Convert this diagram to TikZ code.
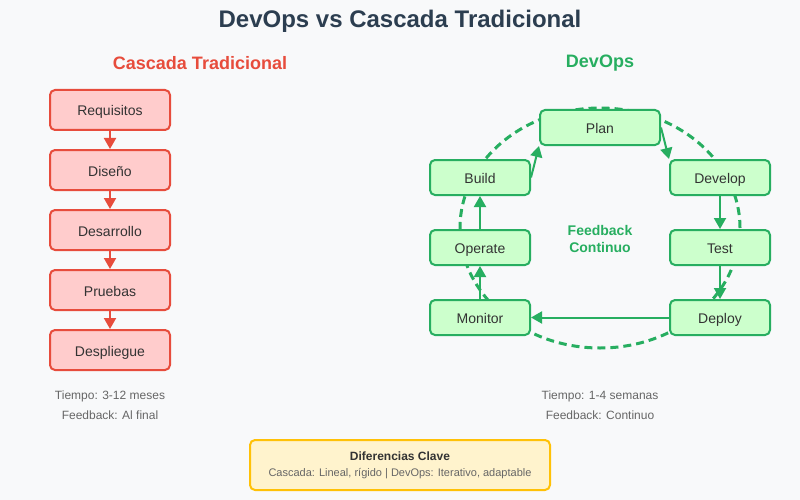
\documentclass[tikz,border=0pt]{standalone}
\usepackage{fontspec}
\setmainfont{Liberation Sans}
\usetikzlibrary{arrows.meta}
\definecolor{bg}{HTML}{F8F9FA}
\definecolor{navy}{HTML}{2C3E50}
\definecolor{wred}{HTML}{E74C3C}
\definecolor{wredfill}{HTML}{FFCCCC}
\definecolor{dgreen}{HTML}{27AE60}
\definecolor{dgreenfill}{HTML}{CCFFCC}
\definecolor{txt}{HTML}{333333}
\definecolor{subtxt}{HTML}{666666}
\definecolor{ybord}{HTML}{FFC107}
\definecolor{yfill}{HTML}{FFF3CD}
\begin{document}
\begin{tikzpicture}[x=1pt,y=-1pt,
  wbox/.style={draw=wred,fill=wredfill,line width=2pt,rounded corners=5pt,minimum width=120pt,minimum height=40pt,inner sep=0pt,font=\fontsize{14}{16}\selectfont,text=txt,text height=14pt,text depth=2pt},
  dbox/.style={draw=dgreen,fill=dgreenfill,line width=2pt,rounded corners=5pt,minimum width=100pt,minimum height=35pt,inner sep=0pt,font=\fontsize{14}{16}\selectfont,text=txt,text height=14pt,text depth=2pt},
  warrow/.style={draw=wred,line width=2pt,-{Triangle[length=11pt,width=12pt]}},
  darrow/.style={draw=dgreen,line width=2pt,-{Triangle[length=11pt,width=12pt]}},
  small/.style={font=\fontsize{12}{14}\selectfont,text=subtxt,inner sep=0pt}]
\fill[bg] (0,0) rectangle (800,500);
\useasboundingbox (0,0) rectangle (800,500);
\node[font=\bfseries\fontsize{24}{28}\selectfont,text=navy] (title) at (400,21.5) {DevOps vs Cascada Tradicional};
\node[font=\bfseries\fontsize{18}{21}\selectfont,text=wred] (wtitle) at (200,63.5) {Cascada Tradicional};
\node[font=\bfseries\fontsize{18}{21}\selectfont,text=dgreen] (dtitle) at (600,63.5) {DevOps};
% waterfall
\node[wbox] (req) at (110,110) {Requisitos};
\node[wbox] (dis) at (110,170) {Diseño};
\node[wbox] (des) at (110,230) {Desarrollo};
\node[wbox] (pru) at (110,290) {Pruebas};
\node[wbox] (dep) at (110,350) {Despliegue};
\draw[warrow] (req) -- (dis);
\draw[warrow] (dis) -- (des);
\draw[warrow] (des) -- (pru);
\draw[warrow] (pru) -- (dep);
\node[small] (wt1) at (110,396) {Tiempo: 3-12 meses};
\node[small] (wt2) at (110,415) {Feedback: Al final};
% devops loop
\draw[dgreen,line width=3pt,dash pattern=on 8pt off 5pt] (600,228) ellipse [x radius=140pt,y radius=120pt];
\node[dbox,minimum width=120pt] (plan) at (600,127.5) {Plan};
\node[dbox] (devl) at (720,177.5) {Develop};
\node[dbox] (test) at (720,247.5) {Test};
\node[dbox] (depl) at (720,317.5) {Deploy};
\node[dbox] (mon) at (480,317.5) {Monitor};
\node[dbox] (oper) at (480,247.5) {Operate};
\node[dbox] (build) at (480,177.5) {Build};
\draw[darrow] (build.east) -- (plan.south west);
\draw[darrow] (plan.east) -- (devl.north west);
\draw[darrow] (devl) -- (test);
\draw[darrow] (test) -- (depl);
\draw[darrow] (depl) -- (mon);
\draw[darrow] (mon) -- (oper);
\draw[darrow] (oper) -- (build);
\node[font=\bfseries\fontsize{14}{17}\selectfont,text=dgreen,align=center] (fb) at (600,239) {Feedback\\Continuo};
\node[small] (dt1) at (600,396) {Tiempo: 1-4 semanas};
\node[small] (dt2) at (600,415) {Feedback: Continuo};
% bottom
\node[draw=ybord,fill=yfill,line width=2pt,rounded corners=5pt,minimum width=300pt,minimum height=50pt] (diff) at (400,465) {};
\node[font=\bfseries\fontsize{12}{14}\selectfont,text=txt] (dtitle2) at (400,456) {Diferencias Clave};
\node[font=\fontsize{11}{13}\selectfont,text=subtxt] (dsub) at (400,474) {Cascada: Lineal, rígido | DevOps: Iterativo, adaptable};
\end{tikzpicture}
\end{document}
